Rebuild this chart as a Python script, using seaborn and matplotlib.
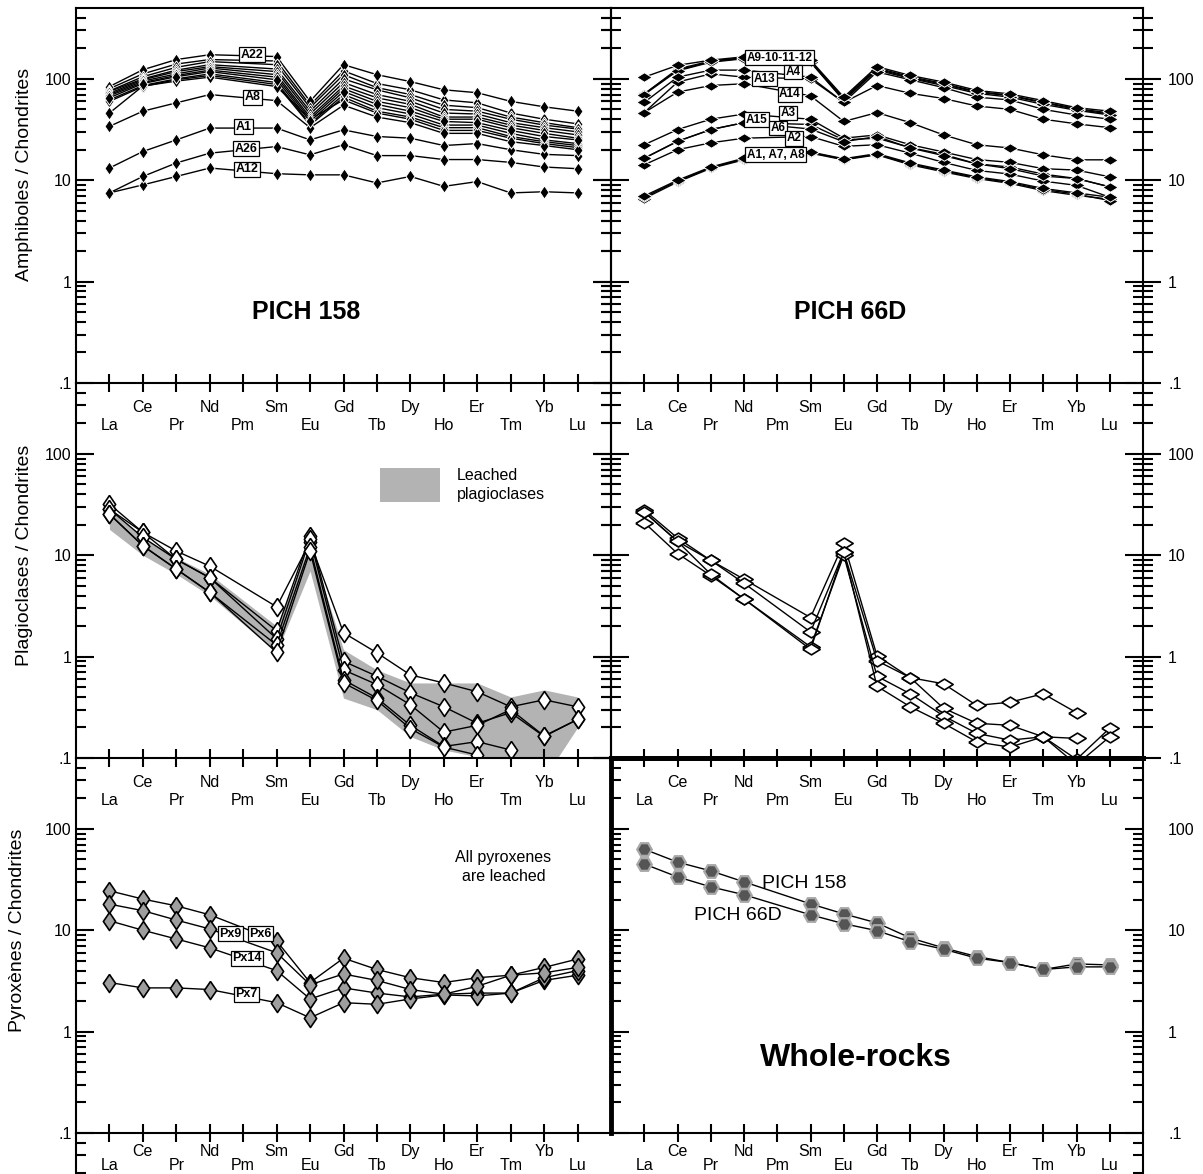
import numpy as np
import pandas as pd
import matplotlib
matplotlib.use("Agg")
import matplotlib.pyplot as plt
import seaborn as sns
from matplotlib.ticker import FixedLocator, NullFormatter, FuncFormatter, NullLocator

# ---------------- data ----------------
ELEMENTS = ['La', 'Ce', 'Pr', 'Nd', 'Pm', 'Sm', 'Eu', 'Gd', 'Tb', 'Dy', 'Ho', 'Er', 'Tm', 'Yb', 'Lu']
MEASURED = ['La', 'Ce', 'Pr', 'Nd', 'Sm', 'Eu', 'Gd', 'Tb', 'Dy', 'Ho', 'Er', 'Tm', 'Yb', 'Lu']

# Amphiboles PICH 158
AMPH_158 = {
    'A22': [84, 123, 155, 173, 166, 60, 138, 110, 94, 78, 73, 60, 53, 48],
    'A2':  [80, 112, 140, 155, 150, 55, 120, 90, 78, 62, 58, 46, 40, 36],
    'A3':  [76, 105, 130, 148, 138, 52, 110, 82, 70, 55, 52, 42, 37, 33],
    'A4':  [75, 100, 122, 138, 125, 48, 100, 78, 65, 50, 48, 40, 35, 32],
    'A5':  [72, 98, 118, 132, 118, 45, 92, 70, 60, 46, 45, 37, 33, 30],
    'A6':  [70, 95, 112, 128, 110, 42, 85, 65, 56, 42, 42, 35, 31, 28],
    'A7':  [68, 92, 108, 122, 104, 40, 80, 60, 52, 40, 40, 33, 29, 26],
    'A9':  [65, 90, 105, 118, 98, 38, 75, 56, 48, 38, 37, 31, 27, 25],
    'A10': [62, 86, 100, 112, 92, 36, 70, 52, 45, 35, 35, 29, 25, 23],
    'A11': [60, 84, 98, 108, 88, 35, 66, 48, 42, 33, 33, 27, 24, 22],
    'A13': [46, 85, 95, 104, 84, 40, 62, 46, 40, 31, 31, 26, 23, 21],
    'A8':  [34, 48, 58, 70, 61, 33, 55, 42, 37, 29, 29, 24, 22, 20],
    'A1':  [13.2, 19.2, 25, 32.7, 32.7, 25, 31.4, 27, 26, 22, 23, 20, 18, 17.5],
    'A26': [7.5, 10.9, 14.8, 18.5, 21.5, 17.8, 22.4, 17.5, 17.5, 16, 16, 15, 13.5, 13],
    'A12': [7.5, 9.0, 10.9, 13.2, 11.6, 11.3, 11.3, 9.4, 10.9, 8.7, 9.7, 7.5, 7.7, 7.5],
}
AMPH_158_LABELS = ['A22', 'A8', 'A1', 'A26', 'A12']
AMPH_158_LABEL_X = [4.27, 4.27, 4.0, 4.09, 4.12]
AMPH_158_LABEL_Y = [172, 66, 33.6, 20.4, 12.9]

# Amphiboles PICH 66D
AMPH_66D = {
    'A9':  [104, 136, 153, 165, 153, 66, 132, 108, 93, 77, 71, 61, 52, 48],
    'A10': [71, 125, 150, 162, 150, 64, 128, 105, 90, 75, 69, 59, 51, 46],
    'A11': [71, 122, 148, 160, 148, 62, 125, 103, 88, 74, 68, 58, 50, 45],
    'A12': [70, 120, 146, 158, 146, 61, 122, 101, 86, 72, 66, 56, 49, 44],
    'A4':  [58.6, 104, 122, 122, 104, 58.6, 117, 98, 82, 66, 62, 50, 44, 40],
    'A13': [46.5, 93, 112, 104, 100, 58.6, 86, 72, 64, 54, 50, 40, 36, 33],
    'A14': [46.5, 74, 86, 89.5, 68, 38, 46.5, 37, 28, 22.4, 20.8, 17.8, 15.9, 15.9],
    'A3':  [22.4, 31.6, 40, 45, 40, 26, 28, 22.4, 19, 16, 15, 13, 12.6, 10.8],
    'A15': [16.5, 24.2, 31.6, 37, 35.5, 25, 26, 21, 18, 14.5, 13.5, 11.5, 10.4, 8.6],
    'A6':  [16.5, 24.2, 31.6, 37, 32, 24, 27, 20.8, 17.5, 14.5, 13, 11, 10.4, 8.6],
    'A2':  [14.2, 20, 23.4, 26, 27, 21.6, 22.4, 18.5, 15, 12.5, 11.5, 9.8, 8.9, 6.8],
    'A1':  [6.6, 9.6, 13.1, 15.9, 18.5, 15.9, 17.8, 14.2, 12.1, 10.4, 9.3, 7.9, 7.1, 6.5],
    'A7':  [6.8, 9.8, 13.3, 16.2, 18.8, 16.1, 18.0, 14.5, 12.4, 10.6, 9.5, 8.1, 7.3, 6.3],
    'A8':  [7.0, 10.0, 13.5, 16.5, 19.0, 16.3, 18.3, 14.8, 12.6, 10.8, 9.7, 8.3, 7.5, 6.8],
}
AMPH_66D_LABELS = ['A9-10-11-12', 'A4', 'A13', 'A14', 'A15', 'A3', 'A6', 'A2', 'A1, A7, A8']
AMPH_66D_LABEL_X = [4.08, 4.47, 3.62, 4.38, 3.38, 4.32, 4.02, 4.5, 3.95]
AMPH_66D_LABEL_Y = [161, 117, 100, 70.5, 39.4, 46, 32.8, 26, 17.8]

# Plagioclases PICH 158
NAN = np.nan
PLAG_158 = {
    'P1': [28.5, 16.8, 11, 7.8, 3.1, 13.5, 1.72, 1.09, 0.66, 0.55, 0.45, 0.32, 0.375, 0.32],
    'P2': [32, 16.8, 9.1, 6.0, 1.8, 15.5, 0.90, 0.64, 0.44, 0.32, 0.22, 0.28, 0.163, 0.24],
    'P3': [28.5, 15, 9.1, 6.0, 1.5, 14.5, 0.74, 0.53, 0.335, 0.18, 0.21, 0.30, 0.165, 0.24],
    'P4': [25.5, 12.4, 7.3, 4.3, 1.3, 12, 0.59, 0.39, 0.21, 0.13, 0.145, 0.12, NAN, NAN],
    'P5': [25.5, 12.4, 7.3, 4.3, 1.1, 11, 0.55, 0.37, 0.195, 0.128, 0.107, 0.079, 0.072, 0.079],
}
LEACHED_HIGH = [28, 15, 9.5, 6.5, 2.0, 13, 1.17, 0.74, 0.55, 0.55, 0.55, 0.40, 0.47, 0.40]
LEACHED_LOW = [18, 10, 6.5, 4.0, 1.1, 7, 0.39, 0.30, 0.163, 0.12, 0.103, 0.089, 0.063, 0.20]
LEGEND_BOX_X = [8.1, 9.9]
LEGEND_BOX_Y = [33.6, 72.6]

# Plagioclases PICH 66D
PLAG_66D = {
    'Q1': [26.7, 13.7, 8.9, 5.8, 2.43, 13.2, 1.02, 0.62, 0.54, 0.33, 0.355, 0.43, 0.28, NAN],
    'Q2': [28, 14.8, 8.9, 5.3, 1.75, 10.8, 0.91, 0.62, 0.31, 0.22, 0.21, 0.162, 0.156, NAN],
    'Q3': [21, 10.4, 6.3, 3.7, 1.25, 10, 0.64, 0.43, 0.26, 0.175, 0.15, 0.162, 0.097, 0.197],
    'Q4': [26.7, 13.7, 6.5, 3.7, 1.18, 10.8, 0.51, 0.32, 0.22, 0.144, 0.128, 0.162, 0.086, 0.162],
}

# Pyroxenes PICH 158
PYX_158 = {
    'Px6':  [24.5, 20.3, 17.4, 14.2, 7.85, 3.05, 5.3, 4.1, 3.4, 3.05, 3.4, 3.6, 4.3, 5.2],
    'Px9':  [18.1, 15.6, 12.6, 10.3, 6.0, 2.9, 3.7, 3.2, 2.6, 2.34, 2.8, 3.6, 3.8, 4.3],
    'Px14': [12.4, 10, 8.2, 6.7, 4.0, 2.1, 2.7, 2.4, 2.2, 2.34, 2.4, 2.4, 3.2, 3.6],
    'Px7':  [3.05, 2.7, 2.7, 2.6, 1.93, 1.37, 1.93, 1.86, 2.1, 2.3, 2.25, 2.4, 3.4, 4.0],
}
PYX_LABELS = ['Px9', 'Px6', 'Px14', 'Px7']
PYX_LABEL_X = [3.61, 4.51, 4.12, 4.09]
PYX_LABEL_Y = [9.2, 9.2, 5.3, 2.35]

# Whole rocks
WHOLE_ROCKS = {
    'PICH 158': [63, 47, 38.5, 30, 18.2, 14.5, 11.8, 8.4, 6.7, 5.5, 4.8, 4.1, 4.65, 4.55],
    'PICH 66D': [45, 33.6, 26.8, 22.4, 14.2, 11.6, 9.9, 7.7, 6.5, 5.3, 4.8, 4.1, 4.35, 4.35],
}
WR_LABEL_X = [3.55, 1.49]
WR_LABEL_Y = [28.7, 13.9]

# ---------------- style ----------------
sns.set_theme(style="white")
plt.rcParams['font.family'] = ['Liberation Sans', 'DejaVu Sans']
plt.rcParams.update({'axes.edgecolor': 'black', 'text.color': 'black',
                     'xtick.color': 'black', 'ytick.color': 'black',
                     'axes.labelcolor': 'black'})
NARROW = ['Liberation Sans Narrow', 'Liberation Sans', 'DejaVu Sans']

W, H = 1203, 1174
fig = plt.figure(figsize=(W / 100, H / 100), dpi=100)


def rect(x0, x1, ytop, ybot):
    return [x0 / W, 1 - ybot / H, (x1 - x0) / W, (ybot - ytop) / H]


LX0, MID, RX1 = 76, 611, 1143
ROWS = [(8, 383), (383, 758), (758, 1133)]

MAJ = [0.1, 1, 10, 100]
MINOR = [m * 10.0 ** e for e in range(-1, 3) for m in range(2, 10) if m * 10.0 ** e < 500]
LABMAP = {0.1: '.1', 1.0: '1', 10.0: '10', 100.0: '100'}
fmt = FuncFormatter(lambda v, p: LABMAP.get(round(v, 4), ''))
XLABELS = [('\n' + el if i % 2 == 0 else el) for i, el in enumerate(ELEMENTS)]

TALL = [(0, 1), (0.68, 0), (0, -1), (-0.68, 0), (0, 1)]
WIDE = [(-1, 0), (0, 0.62), (1, 0), (0, -0.62), (-1, 0)]


def to_long(series):
    rows = []
    for name, vals in series.items():
        for el, v in zip(MEASURED, vals):
            if v is None or np.isnan(v):
                continue
            rows.append((name, ELEMENTS.index(el), v))
    return pd.DataFrame(rows, columns=['sample', 'pos', 'value'])


def draw(ax, series, **kw):
    df = to_long(series)
    sns.lineplot(data=df, x='pos', y='value', units='sample', estimator=None,
                 sort=False, color='black', linewidth=1.0, ax=ax, legend=False, **kw)


def base(ax, ylabel=None, label_xy=None, bottom_row=False):
    ax.set_yscale('log')
    ax.set_xlim(-1, 15)
    ax.set_ylim(0.1, 500)
    ax.patch.set_visible(False)
    ax.grid(False)
    ax.yaxis.set_major_locator(FixedLocator(MAJ))
    ax.yaxis.set_minor_locator(FixedLocator(MINOR))
    ax.yaxis.set_major_formatter(fmt)
    ax.yaxis.set_minor_formatter(NullFormatter())
    ax.set_xticks(range(15))
    ax.set_xticklabels(XLABELS)
    ax.xaxis.set_minor_locator(NullLocator())
    ax.tick_params(axis='x', which='major', direction='inout', length=13, width=1.5,
                   bottom=True, top=False, labelsize=11.5, pad=(1.5 if bottom_row else 6))
    if bottom_row:
        for lbl in ax.get_xticklabels():
            lbl.set_linespacing(0.87)
    for s in ax.spines.values():
        s.set_linewidth(1.5)
        s.set_color('black')
    ax.spines['top'].set_visible(False)
    ax.set_xlabel('')
    if ylabel:
        ax.set_ylabel(ylabel, fontsize=14)
        ax.yaxis.set_label_coords(*label_xy)
    else:
        ax.set_ylabel('')


def left_ticks(ax, right=True):
    ax.tick_params(axis='y', which='major', direction='in', length=13, width=1.5,
                   left=True, right=right, labelleft=True, labelright=False,
                   labelsize=11.5, pad=3)
    ax.tick_params(axis='y', which='minor', direction='in', length=7, width=1.5,
                   left=True, right=right)


def right_ticks(ax, direction='inout'):
    if direction == 'inout':
        ax.tick_params(axis='y', which='major', direction='inout', length=26, width=1.5,
                       left=True, right=True, labelleft=False, labelright=True,
                       labelsize=11.5, pad=5)
        ax.tick_params(axis='y', which='minor', direction='inout', length=14, width=1.5,
                       left=True, right=True)
    else:
        ax.tick_params(axis='y', which='major', direction='in', length=13, width=1.5,
                       left=True, right=True, labelleft=False, labelright=True,
                       labelsize=11.5, pad=18)
        ax.tick_params(axis='y', which='minor', direction='in', length=7, width=1.5,
                       left=True, right=True)


def boxed(ax, xs, ys, labels, size=9):
    for x, y, t in zip(xs, ys, labels):
        ax.text(x, y, t, ha='center', va='center', fontsize=size, fontweight='bold',
                family=NARROW, zorder=10,
                bbox=dict(boxstyle='square,pad=0.12', fc='white', ec='black', lw=0.9))


axs = [[fig.add_axes(rect(LX0, MID, *ROWS[r])), fig.add_axes(rect(MID, RX1, *ROWS[r]))]
       for r in range(3)]
for row in axs:
    for ax in row:
        ax.set_yscale('log')

# ---- row 1: amphiboles ----
ax = axs[0][0]
draw(ax, AMPH_158, marker=TALL, markersize=9.5, markerfacecolor='black',
     markeredgecolor='white', markeredgewidth=0.7)
base(ax, 'Amphiboles / Chondrites', (-0.08, 0.555))
left_ticks(ax)
ax.spines['top'].set_visible(True)
boxed(ax, AMPH_158_LABEL_X, AMPH_158_LABEL_Y, AMPH_158_LABELS)
ax.text(5.89, 0.5, 'PICH 158', ha='center', va='center', fontsize=18, fontweight='bold')

ax = axs[0][1]
draw(ax, AMPH_66D, marker=WIDE, markersize=11, markerfacecolor='black',
     markeredgecolor='white', markeredgewidth=0.7)
base(ax)
right_ticks(ax)
ax.spines['top'].set_visible(True)
boxed(ax, AMPH_66D_LABEL_X, AMPH_66D_LABEL_Y, AMPH_66D_LABELS, size=8.5)
ax.text(6.2, 0.5, 'PICH 66D', ha='center', va='center', fontsize=18, fontweight='bold')

# ---- row 2: plagioclases ----
ax = axs[1][0]
pos = [ELEMENTS.index(e) for e in MEASURED]
ax.fill_between(pos, LEACHED_LOW, LEACHED_HIGH, color='#b3b3b3', lw=0, zorder=0.5)
ax.fill_between(LEGEND_BOX_X, [LEGEND_BOX_Y[0]] * 2, [LEGEND_BOX_Y[1]] * 2,
                color='#b3b3b3', lw=0, zorder=0.5)
draw(ax, PLAG_158, marker=TALL, markersize=13, markerfacecolor='white',
     markeredgecolor='black', markeredgewidth=1.2)
base(ax, 'Plagioclases / Chondrites', (-0.08, 0.541))
left_ticks(ax)
ax.text(10.4, 49.4, 'Leached\nplagioclases', ha='left', va='center', fontsize=11.5,
        family=NARROW, linespacing=1.3)

ax = axs[1][1]
draw(ax, PLAG_66D, marker=WIDE, markersize=12.5, markerfacecolor='white',
     markeredgecolor='black', markeredgewidth=1.2)
base(ax)
right_ticks(ax)
ax.spines['bottom'].set_linewidth(3.5)

# ---- row 3: pyroxenes and whole rocks ----
ax = axs[2][0]
draw(ax, PYX_158, marker=TALL, markersize=13, markerfacecolor='#9e9e9e',
     markeredgecolor='black', markeredgewidth=1.2)
base(ax, 'Pyroxènes / Chondrites', (-0.094, 0.541), bottom_row=True)
left_ticks(ax, right=False)
ax.spines['right'].set_visible(False)
boxed(ax, PYX_LABEL_X, PYX_LABEL_Y, PYX_LABELS)
ax.text(11.78, 42, 'All pyroxenes\nare leached', ha='center', va='center', fontsize=11.5,
        family=NARROW, linespacing=1.3)

ax = axs[2][1]
draw(ax, WHOLE_ROCKS, marker='H', markersize=10.5, markerfacecolor='#555555',
     markeredgecolor='#a8a8a8', markeredgewidth=1.6)
base(ax, bottom_row=True)
right_ticks(ax, direction='in')
ax.spines['top'].set_visible(True)
ax.spines['top'].set_linewidth(3.5)
ax.spines['left'].set_linewidth(3.5)
for x, y, t in zip(WR_LABEL_X, WR_LABEL_Y, WHOLE_ROCKS.keys()):
    ax.text(x, y, t, ha='left', va='center', fontsize=14)
ax.text(6.36, 0.55, 'Whole-rocks', ha='center', va='center', fontsize=23,
        fontweight='bold', family=NARROW)

# ---- bottom strips continuing the vertical scales ----
strip_lo = 500 / 10 ** (41 / 101.35)
for (x0, x1, side) in [(LX0, MID, 'left'), (MID, RX1, 'right')]:
    sax = fig.add_axes(rect(x0, x1, 1133, 1174))
    sax.set_yscale('log')
    sax.set_ylim(strip_lo, 500)
    sax.set_xlim(0, 1)
    sax.patch.set_visible(False)
    sax.grid(False)
    for s in sax.spines.values():
        s.set_visible(False)
    sax.spines[side].set_visible(True)
    sax.spines[side].set_linewidth(1.5)
    sax.set_xticks([])
    sax.yaxis.set_major_locator(FixedLocator([]))
    sax.yaxis.set_minor_locator(FixedLocator([200, 300, 400]))
    sax.yaxis.set_minor_formatter(NullFormatter())
    sax.tick_params(axis='y', which='minor', direction='in', length=7, width=1.5,
                    left=(side == 'left'), right=(side == 'right'))

fig.savefig('out.png', dpi=100)
